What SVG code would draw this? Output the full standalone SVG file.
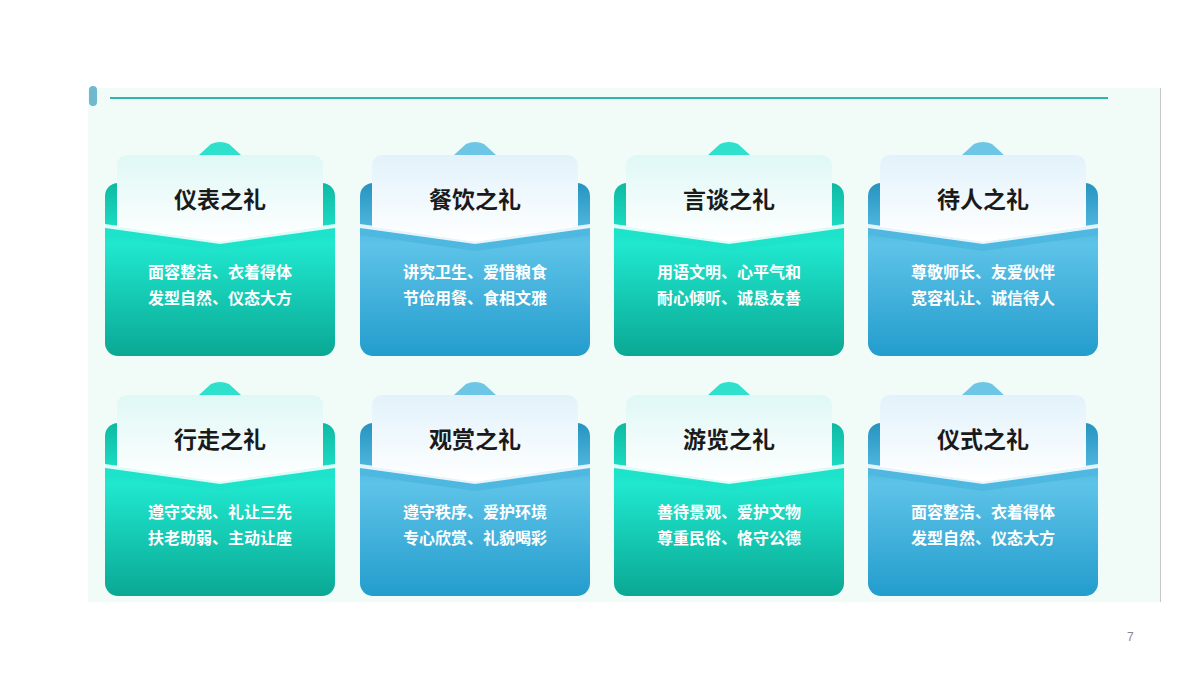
<svg xmlns="http://www.w3.org/2000/svg" width="1200" height="675" viewBox="0 0 1200 675">
<style>
.t{font-family:"Noto Sans CJK SC","Liberation Sans",sans-serif;font-weight:bold;font-size:23px;fill:#1a1a1a;text-anchor:middle}
.b{font-family:"Noto Sans CJK SC","Liberation Sans",sans-serif;font-weight:bold;font-size:16px;fill:#ffffff;text-anchor:middle}
</style>
<defs>
<linearGradient id="gg" x1="0" y1="0" x2="0" y2="1"><stop offset="0" stop-color="#0fb9a3"/><stop offset="0.35" stop-color="#20e8cf"/><stop offset="1" stop-color="#0aa894"/></linearGradient>
<linearGradient id="gb" x1="0" y1="0" x2="0" y2="1"><stop offset="0" stop-color="#2694c0"/><stop offset="0.35" stop-color="#5ec3e8"/><stop offset="1" stop-color="#239dcd"/></linearGradient>
<linearGradient id="pw" x1="0" y1="0" x2="0" y2="1"><stop offset="0" stop-color="#dff8f6"/><stop offset="1" stop-color="#ffffff"/></linearGradient>
<linearGradient id="pb" x1="0" y1="0" x2="0" y2="1"><stop offset="0" stop-color="#e2f2fb"/><stop offset="1" stop-color="#ffffff"/></linearGradient>
<g id="cg">
<path d="M94 12 L106 1 Q115 -3 124 1 L136 12 Z" fill="#2fe0cc"/>
<rect x="0" y="40" width="230" height="173" rx="13" fill="url(#gg)"/>
<path d="M12 24 Q12 12 24 12 L206 12 Q218 12 218 24 L218 84 L115 99 L12 84 Z" fill="url(#pw)"/>
<path d="M0 82 L115 99 L230 82 L230 92 L115 108 L0 92 Z" fill="#1ee3cb"/>
<path d="M0 81 L115 97 L230 81 L230 85 L115 101 L0 85 Z" fill="#ffffff" opacity="0.85"/>
</g>
<g id="cb">
<path d="M94 12 L106 1 Q115 -3 124 1 L136 12 Z" fill="#6ec6e6"/>
<rect x="0" y="40" width="230" height="173" rx="13" fill="url(#gb)"/>
<path d="M12 24 Q12 12 24 12 L206 12 Q218 12 218 24 L218 84 L115 99 L12 84 Z" fill="url(#pb)"/>
<path d="M0 82 L115 99 L230 82 L230 92 L115 108 L0 92 Z" fill="#4fb8e0"/>
<path d="M0 81 L115 97 L230 81 L230 85 L115 101 L0 85 Z" fill="#ffffff" opacity="0.85"/>
</g>
</defs>
<rect width="1200" height="675" fill="#ffffff"/>
<rect x="88" y="88" width="1072" height="514" fill="#f1fbf7"/>
<line x1="1160.5" y1="88" x2="1160.5" y2="602" stroke="#c8c8c8"/>
<rect x="89" y="86" width="8" height="20" rx="4" fill="#6fb8d0"/>
<line x1="110" y1="98" x2="1108" y2="98" stroke="#2cb8a8" stroke-width="2"/>
<g id="card1" transform="translate(105,143)"><use href="#cg"/><text class="t" x="115" y="65">仪表之礼</text><text class="b" x="115" y="135">面容整洁、衣着得体</text><text class="b" x="115" y="161">发型自然、仪态大方</text></g>
<g id="card2" transform="translate(360,143)"><use href="#cb"/><text class="t" x="115" y="65">餐饮之礼</text><text class="b" x="115" y="135">讲究卫生、爱惜粮食</text><text class="b" x="115" y="161">节俭用餐、食相文雅</text></g>
<g id="card3" transform="translate(614,143)"><use href="#cg"/><text class="t" x="115" y="65">言谈之礼</text><text class="b" x="115" y="135">用语文明、心平气和</text><text class="b" x="115" y="161">耐心倾听、诚恳友善</text></g>
<g id="card4" transform="translate(868,143)"><use href="#cb"/><text class="t" x="115" y="65">待人之礼</text><text class="b" x="115" y="135">尊敬师长、友爱伙伴</text><text class="b" x="115" y="161">宽容礼让、诚信待人</text></g>
<g id="card5" transform="translate(105,383)"><use href="#cg"/><text class="t" x="115" y="65">行走之礼</text><text class="b" x="115" y="135">遵守交规、礼让三先</text><text class="b" x="115" y="161">扶老助弱、主动让座</text></g>
<g id="card6" transform="translate(360,383)"><use href="#cb"/><text class="t" x="115" y="65">观赏之礼</text><text class="b" x="115" y="135">遵守秩序、爱护环境</text><text class="b" x="115" y="161">专心欣赏、礼貌喝彩</text></g>
<g id="card7" transform="translate(614,383)"><use href="#cg"/><text class="t" x="115" y="65">游览之礼</text><text class="b" x="115" y="135">善待景观、爱护文物</text><text class="b" x="115" y="161">尊重民俗、恪守公德</text></g>
<g id="card8" transform="translate(868,383)"><use href="#cb"/><text class="t" x="115" y="65">仪式之礼</text><text class="b" x="115" y="135">面容整洁、衣着得体</text><text class="b" x="115" y="161">发型自然、仪态大方</text></g>
<g id="connectors"/>
<text x="1127" y="641" font-family="Liberation Sans, sans-serif" font-size="12" fill="#888">7</text>
</svg>
